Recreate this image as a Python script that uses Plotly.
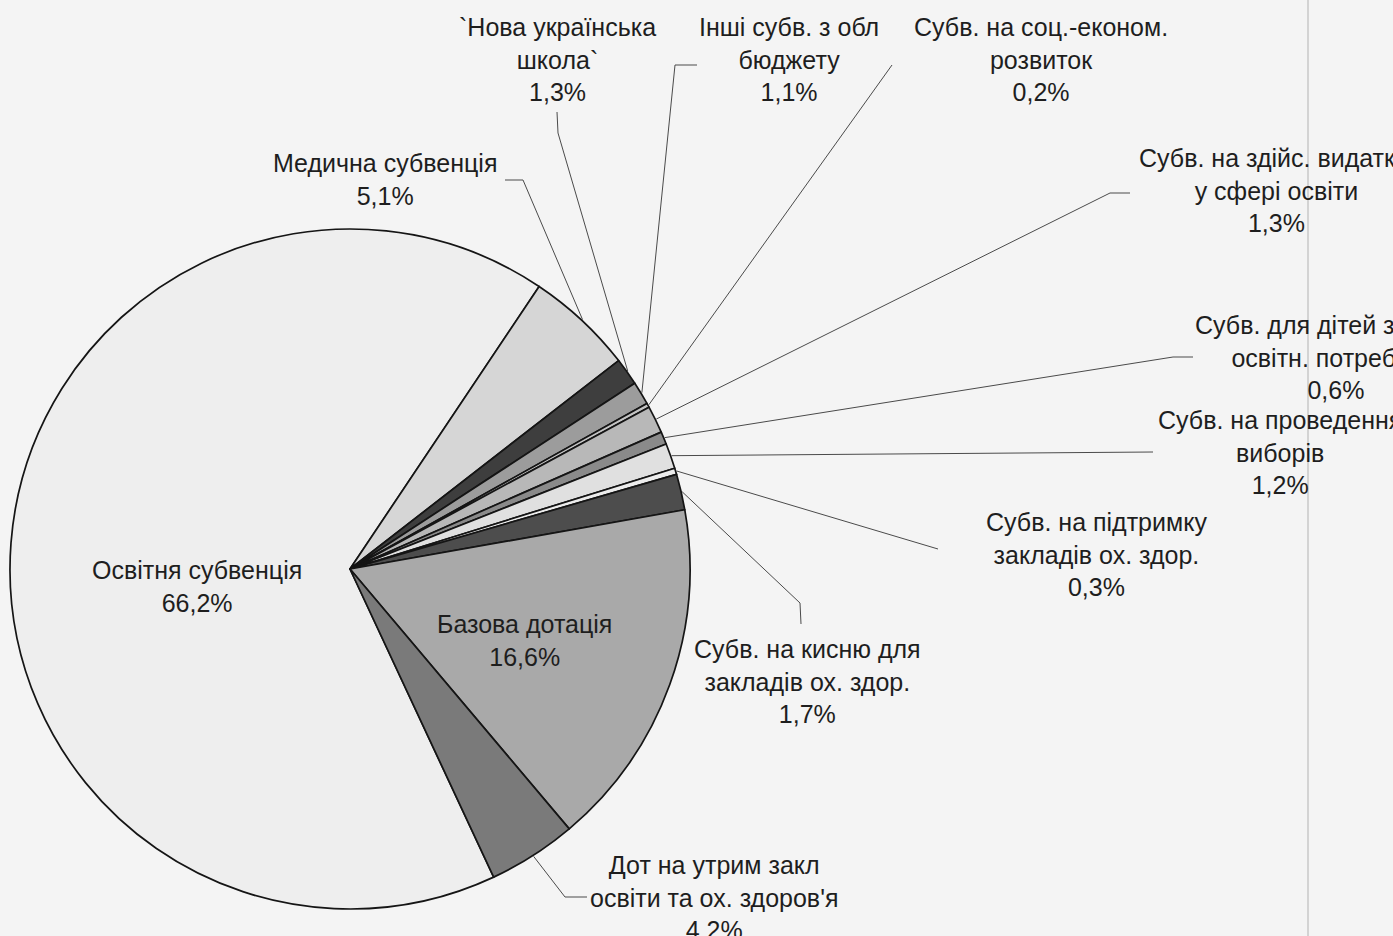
import math
import plotly.graph_objects as go

# ---------------- data ----------------
labels = [
    "Освітня субвенція",
    "Медична субвенція",
    "`Нова українська школа`",
    "Інші субв. з обл бюджету",
    "Субв. на соц.-економ. розвиток",
    "Субв. на здійс. видатків у сфері освіти",
    "Субв. для дітей з особл. освітн. потребами",
    "Субв. на проведення виборів",
    "Субв. на підтримку закладів ох. здор.",
    "Субв. на кисню для закладів ох. здор.",
    "Базова дотація",
    "Дот на утрим закл освіти та ох. здоров'я",
]
label_lines = [
    ["Освітня субвенція"],
    ["Медична субвенція"],
    ["`Нова українська", "школа`"],
    ["Інші субв. з обл", "бюджету"],
    ["Субв. на соц.-економ.", "розвиток"],
    ["Субв. на здійс. видатків", "у сфері освіти"],
    ["Субв. для дітей з особл.", "освітн. потребами"],
    ["Субв. на проведення", "виборів"],
    ["Субв. на підтримку", "закладів ох. здор."],
    ["Субв. на кисню для", "закладів ох. здор."],
    ["Базова дотація"],
    ["Дот на утрим закл", "освіти та ох. здоров'я"],
]
values = [66.2, 5.1, 1.3, 1.1, 0.2, 1.3, 0.6, 1.2, 0.3, 1.7, 16.6, 4.2]

# ---------------- styling ----------------
colors = ["#eeeeee", "#d6d6d6", "#3e3e3e", "#9c9c9c", "#c4c4c4", "#b8b8b8",
          "#8a8a8a", "#e0e0e0", "#ececec", "#4d4d4d", "#a9a9a9", "#7a7a7a"]

W, H = 1393, 936
CX, CY, R = 350, 569, 340
ROTATION = 155
FONT = "Liberation Sans, Arial, sans-serif"
FS = 25

# label placement (pixel centre of the text block) and leader elbow points
label_pos = {
    0: (197, 586, None),
    1: (385, 180, [(523, 180), (505, 180)]),
    2: (557, 59, [(558, 133), (557, 112)]),
    3: (789, 60, [(675, 65), (697, 65)]),
    4: (1041, 60, [(892, 65)]),
    5: (1276, 191, [(1110, 193), (1130, 193)]),
    6: (1336, 357, [(1173, 357), (1193, 357)]),
    7: (1280, 452, [(1153, 452)]),
    8: (1096, 554, [(938, 549)]),
    9: (807, 681, [(800, 603), (801, 624)]),
    10: (524, 640, None),
    11: (714, 897, [(565, 897), (587, 897)]),
}


def px(x):
    return x / W


def py(y):
    return 1 - y / H


fig = go.Figure()
fig.add_trace(go.Pie(
    labels=labels,
    values=values,
    sort=False,
    direction="clockwise",
    rotation=ROTATION,
    textinfo="none",
    hoverinfo="label+percent",
    marker=dict(colors=colors, line=dict(color="#151515", width=1.7)),
    domain=dict(x=[(CX - R) / W, (CX + R) / W], y=[py(CY + R), py(CY - R)]),
    showlegend=False,
))

total = sum(values)
annotations = []
shapes = []
cum = 0.0
for i, v in enumerate(values):
    mid = math.radians(ROTATION + 360.0 * (cum + v / 2) / total)
    cum += v
    pct = f"{v:.1f}".replace(".", ",") + "%"
    text = "<br>".join(label_lines[i] + [pct])
    lx, ly, leader = label_pos[i]
    annotations.append(dict(
        x=px(lx), y=py(ly), xref="paper", yref="paper",
        xanchor="center", yanchor="middle", align="center",
        text=text, showarrow=False,
        font=dict(family=FONT, size=FS, color="#1e1e1e"),
    ))
    if leader:
        sx = CX + (R + 1) * math.sin(mid)
        sy = CY - (R + 1) * math.cos(mid)
        path = f"M {px(sx)} {py(sy)}"
        for (ex, ey) in leader:
            path += f" L {px(ex)} {py(ey)}"
        shapes.append(dict(type="path", xref="paper", yref="paper", path=path,
                           line=dict(color="#4a4a4a", width=1)))

# scanned page border on the right
shapes.append(dict(type="line", xref="paper", yref="paper",
                   x0=px(1308), x1=px(1308), y0=0, y1=1,
                   line=dict(color="#c9c9c9", width=1.5)))

fig.update_layout(
    width=W, height=H,
    margin=dict(l=0, r=0, t=0, b=0),
    paper_bgcolor="#f4f4f4",
    plot_bgcolor="#f4f4f4",
    annotations=annotations,
    shapes=shapes,
)

fig.write_html(
    "out.html",
    config={"displayModeBar": False},
    post_script="document.body.style.margin='0';document.body.style.overflow='hidden';",
)
